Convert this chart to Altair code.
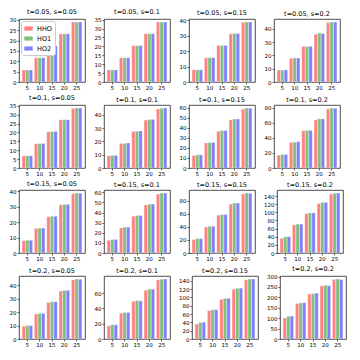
import altair as alt
import pandas as pd

t_vals = ["0.05", "0.1", "0.15", "0.2"]
s_vals = ["0.05", "0.1", "0.15", "0.2"]
sizes = [5, 10, 15, 20, 25]
methods = ["HHO", "HO1", "HO2"]
colors = ["#ff8080", "#80bf80", "#8080ff"]

# values per panel (t, s): [HHO, HO1, HO2]
hho = {
    ("0.05", "0.05"): [5.8, 11.7, 17.5, 23.3, 29.0],
    ("0.05", "0.1"): [6.8, 13.6, 20.4, 27.1, 33.7],
    ("0.05", "0.15"): [7.9, 15.8, 23.7, 31.3, 38.8],
    ("0.05", "0.2"): [9.0, 17.8, 26.8, 36.0, 44.8],
    ("0.1", "0.05"): [6.8, 13.6, 20.4, 27.1, 33.6],
    ("0.1", "0.1"): [9.2, 18.4, 27.4, 36.0, 44.4],
    ("0.1", "0.15"): [12.5, 24.9, 36.6, 48.0, 58.8],
    ("0.1", "0.2"): [17.0, 34.0, 49.5, 64.0, 78.6],
    ("0.15", "0.05"): [8.0, 16.0, 23.6, 31.3, 38.6],
    ("0.15", "0.1"): [12.5, 24.8, 36.4, 47.5, 58.4],
    ("0.15", "0.15"): [20.5, 40.0, 58.0, 75.0, 90.5],
    ("0.15", "0.2"): [36.0, 69.0, 96.5, 121.5, 145.0],
    ("0.2", "0.05"): [9.4, 18.6, 27.3, 35.8, 44.2],
    ("0.2", "0.1"): [17.2, 33.6, 49.2, 63.6, 77.2],
    ("0.2", "0.15"): [36.0, 68.5, 95.5, 119.5, 142.5],
    ("0.2", "0.2"): [101, 170, 216, 255, 286],
}
ho1 = {
    ("0.05", "0.05"): [5.8, 11.7, 17.5, 23.3, 29.0],
    ("0.05", "0.1"): [6.8, 13.6, 20.4, 27.1, 33.7],
    ("0.05", "0.15"): [7.9, 15.8, 23.8, 31.5, 39.0],
    ("0.05", "0.2"): [9.0, 18.1, 26.9, 36.8, 45.2],
    ("0.1", "0.05"): [6.9, 13.7, 20.6, 27.2, 33.8],
    ("0.1", "0.1"): [9.5, 18.5, 27.7, 36.5, 45.0],
    ("0.1", "0.15"): [13.1, 25.3, 37.4, 48.8, 59.8],
    ("0.1", "0.2"): [18.0, 34.2, 50.0, 65.5, 79.8],
    ("0.15", "0.05"): [8.3, 16.2, 23.9, 31.6, 39.0],
    ("0.15", "0.1"): [13.3, 25.6, 37.1, 48.4, 59.4],
    ("0.15", "0.15"): [22.0, 41.0, 59.0, 76.5, 92.0],
    ("0.15", "0.2"): [40.0, 71.0, 98.5, 124.5, 147.0],
    ("0.2", "0.05"): [10.0, 19.1, 27.8, 36.3, 44.8],
    ("0.2", "0.1"): [18.5, 34.6, 50.2, 65.0, 78.0],
    ("0.2", "0.15"): [40.0, 70.5, 97.5, 122.0, 144.5],
    ("0.2", "0.2"): [109, 173, 218, 258, 288],
}
ho2 = {
    ("0.05", "0.05"): [5.8, 11.7, 17.5, 23.3, 29.0],
    ("0.05", "0.1"): [6.8, 13.6, 20.4, 27.1, 33.7],
    ("0.05", "0.15"): [7.9, 15.8, 23.8, 31.5, 39.0],
    ("0.05", "0.2"): [9.1, 18.1, 26.9, 36.5, 45.2],
    ("0.1", "0.05"): [6.9, 13.8, 20.6, 27.2, 33.8],
    ("0.1", "0.1"): [9.5, 18.8, 27.8, 36.5, 45.1],
    ("0.1", "0.15"): [13.1, 25.4, 37.3, 48.8, 59.6],
    ("0.1", "0.2"): [18.0, 35.0, 50.0, 65.2, 79.4],
    ("0.15", "0.05"): [8.3, 16.2, 23.9, 31.6, 38.8],
    ("0.15", "0.1"): [13.3, 25.6, 37.1, 48.4, 59.3],
    ("0.15", "0.15"): [22.0, 41.0, 59.0, 76.5, 91.5],
    ("0.15", "0.2"): [40.0, 71.0, 98.5, 124.5, 147.5],
    ("0.2", "0.05"): [10.0, 19.1, 27.8, 36.3, 44.6],
    ("0.2", "0.1"): [18.5, 34.6, 49.8, 65.0, 78.3],
    ("0.2", "0.15"): [40.5, 70.5, 98.0, 122.5, 144.5],
    ("0.2", "0.2"): [110, 174, 220, 256, 285],
}
yticks = {
    ("0.05", "0.05"): [0, 5, 10, 15, 20, 25, 30],
    ("0.05", "0.1"): [0, 5, 10, 15, 20, 25, 30, 35],
    ("0.05", "0.15"): [0, 10, 20, 30, 40],
    ("0.05", "0.2"): [0, 10, 20, 30, 40],
    ("0.1", "0.05"): [0, 5, 10, 15, 20, 25, 30, 35],
    ("0.1", "0.1"): [0, 10, 20, 30, 40],
    ("0.1", "0.15"): [0, 10, 20, 30, 40, 50, 60],
    ("0.1", "0.2"): [0, 20, 40, 60, 80],
    ("0.15", "0.05"): [0, 10, 20, 30, 40],
    ("0.15", "0.1"): [0, 10, 20, 30, 40, 50, 60],
    ("0.15", "0.15"): [0, 20, 40, 60, 80],
    ("0.15", "0.2"): [0, 20, 40, 60, 80, 100, 120, 140],
    ("0.2", "0.05"): [0, 10, 20, 30, 40],
    ("0.2", "0.1"): [0, 20, 40, 60],
    ("0.2", "0.15"): [0, 20, 40, 60, 80, 100, 120, 140],
    ("0.2", "0.2"): [0, 50, 100, 150, 200, 250, 300],
}

W, H = 66, 63

rows = []
for ti, t in enumerate(t_vals):
    row = []
    for si, s in enumerate(s_vals):
        key = (t, s)
        recs = []
        for m, series in zip(methods, [hho[key], ho1[key], ho2[key]]):
            for n, v in zip(sizes, series):
                recs.append({"n": n, "method": m, "value": v})
        df = pd.DataFrame(recs)
        ymax = max(df["value"]) * 1.05
        first = (ti == 0 and si == 0)
        legend = alt.Legend(
            title=None, orient="none", legendX=2, legendY=2,
            symbolType="M-1,-0.5L1,-0.5L1,0.5L-1,0.5Z", symbolSize=70,
            symbolStrokeWidth=0, labelFontSize=6.5, rowPadding=2,
            strokeColor="#cccccc", fillColor="white", padding=3, cornerRadius=2,
            labelFont="DejaVu Sans", symbolOpacity=1, labelOffset=4,
        ) if first else None
        c = alt.Chart(df).mark_bar(stroke="white", strokeWidth=0.3).encode(
            x=alt.X("n:O", sort=sizes,
                    scale=alt.Scale(paddingInner=0.15, paddingOuter=0.25),
                    axis=alt.Axis(title=None, labelAngle=0)),
            xOffset=alt.XOffset("method:N", sort=methods,
                                scale=alt.Scale(paddingInner=0.05)),
            y=alt.Y("value:Q", scale=alt.Scale(domain=[0, ymax], nice=False),
                    axis=alt.Axis(title=None, values=yticks[key])),
            color=alt.Color("method:N", sort=methods,
                            scale=alt.Scale(domain=methods, range=colors),
                            legend=legend),
        ).properties(
            width=W, height=H,
            title=alt.Title(f"t={t}, s={s}", fontSize=6.5, fontWeight="normal",
                            font="DejaVu Sans", offset=2, color="black"),
        )
        row.append(c)
    rows.append(alt.hconcat(*row, spacing=7))

chart = alt.vconcat(*rows, spacing=3).properties(padding=0).configure_axis(
    labelFontSize=5.5, labelFont="DejaVu Sans", labelColor="black",
    tickSize=2, tickColor="black", tickWidth=0.6, labelPadding=1,
    domain=False, grid=False,
).configure_view(stroke="#222222", strokeWidth=0.8)

chart.save("out.html", embed_options={"renderer": "svg", "actions": False})
